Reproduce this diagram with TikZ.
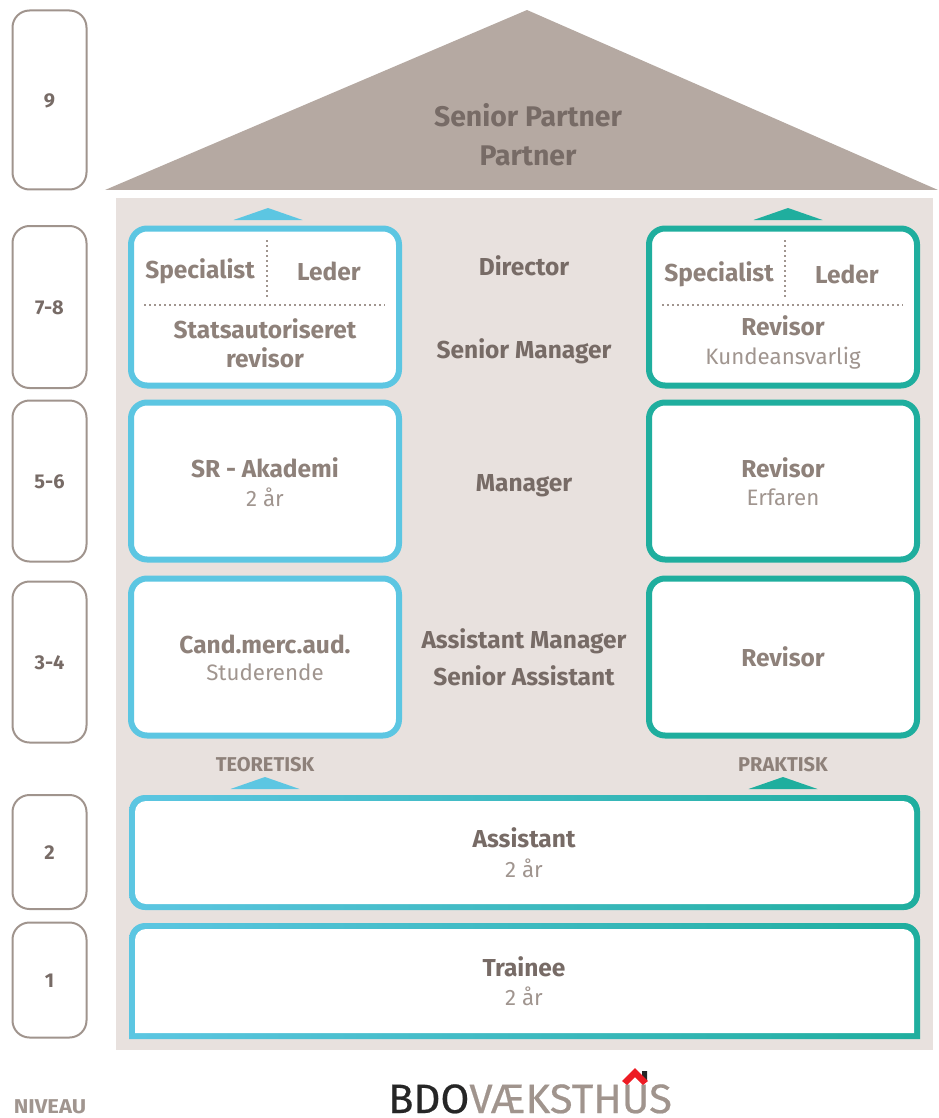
\documentclass[tikz,border=0pt]{standalone}
\usepackage{fontspec}
\setmainfont{Fira Sans}
\newfontfamily\logofont[FakeBold=0.5]{Fira Sans}
\definecolor{roofc}{HTML}{B5A9A2}
\definecolor{wallc}{HTML}{E8E1DE}
\definecolor{bluec}{HTML}{5CC6E2}
\definecolor{tealc}{HTML}{1FAE9E}
\definecolor{levelc}{HTML}{A0948D}
\definecolor{logor}{HTML}{ED1C24}
\definecolor{txtb}{HTML}{8E817A}
\definecolor{txtd}{HTML}{776B66}
\definecolor{txtl}{HTML}{A0958F}
\tikzstyle{level}=[draw=levelc,line width=2pt,rounded corners=17pt,minimum width=74pt,inner sep=0pt,text=txtd,font=\fontsize{20}{20}\selectfont\bfseries]
\tikzstyle{framel}=[draw=bluec,line width=6pt,fill=white,rounded corners=16pt,minimum width=268pt,minimum height=157pt,inner sep=0pt,text=txtb,align=center]
\tikzstyle{framer}=[framel,draw=tealc]
\tikzstyle{wide}=[left color=bluec,right color=tealc,shading angle=90,rounded corners=16pt,minimum width=791pt,inner sep=0pt]
\tikzstyle{title}=[text=txtd,align=center,font=\fontsize{24.5}{37}\selectfont\bfseries]
\tikzstyle{main}=[text=txtb,align=center,font=\fontsize{24.5}{29}\selectfont\bfseries]
\tikzstyle{sub}=[text=txtl,align=center,font=\fontsize{22.3}{28}\selectfont]
\tikzstyle{dots}=[txtl,line width=1.6pt,dash pattern=on 1.6pt off 3.4pt]
\tikzstyle{caps}=[text=txtb,font=\fontsize{20}{20}\selectfont\bfseries]
\begin{document}
\begin{tikzpicture}[x=1pt,y=-1pt]
    \useasboundingbox (0,0) rectangle (938,1118);
    % house
    \fill[wallc] (116,198) rectangle (933,1050);
    \fill[roofc] (527,10) -- (938,190) -- (105,190) -- cycle;
    \node[title,text=txtd,font=\fontsize{28.4}{39}\selectfont\bfseries] (top) at (528,135) {Senior Partner\\Partner};

    % levels on the left
    \foreach \name/\y/\h/\txt in {l9/100/179/9,l78/307/162/7-8,l56/481/161/5-6,l34/662/161/3-4,l2/852/114/2,l1/980/115/1}
    \node[level,minimum height=\h pt] (\name) at (49.5,\y) {\raisebox{-7.5pt}[0pt][0pt]{\txt}};
    \node[text=txtl,font=\fontsize{20}{20}\selectfont\bfseries,xscale=1.1] (niveau) at (50,1107) {NIVEAU};

    % frames
    \foreach \name/\x/\y/\sty in {a1/265/307/framel,a2/265/481/framel,a3/265/657/framel,b1/783/307/framer,b2/783/481/framer,b3/783/657/framer}
    \node[\sty] (\name) at (\x,\y) {};

    % assistant and trainee
    \node[wide,minimum height=115pt] (asso) at (524.5,852.5) {};
    \node[fill=white,rounded corners=11pt,minimum width=779pt,minimum height=103pt,inner sep=0pt] (assi) at (asso) {};
    \shade[left color=bluec,right color=tealc] (129,1039) [rounded corners=16pt] -- (129,923) -- (920,923) [sharp corners] -- (920,1039) -- cycle;
    \fill[white] (135,1033) [rounded corners=11pt] -- (135,929) -- (914,929) [sharp corners] -- (914,1033) -- cycle;

    % arrow heads
    \foreach \x/\y/\col in {268/208/bluec,788/208/tealc,265/777/bluec,783/777/tealc}
    \fill[\col] (\x,\y) -- ++(34.5,12) -- ++(-69,0) -- cycle;

    % dotted dividers
    \foreach \x in {267,785}{
    \draw[dots] (\x,240) -- (\x,298);
    \draw[dots] (\x-123,305) -- (\x+118,305);
    }

    % texts in the frames
    \foreach \name/\x/\y/\txt in {sa/200/271/Specialist,la/329/271/Leder,sb/719/274/Specialist,lb/847/274/Leder}
    \node[main] (\name) at (\x,\y) {\txt};
    \node[main] (stat) at (265,343) {Statsautoriseret\\revisor};
    \node[main] (rev1) at (783,326) {Revisor};
    \node[sub] (kund) at (783,358) {Kundeansvarlig};
    \node[main] (sr) at (265,468) {SR - Akademi};
    \node[sub] (sr2) at (265,497) {2 år};
    \node[main] (rev2) at (783,468) {Revisor};
    \node[sub] (erf) at (783,497) {Erfaren};
    \node[main] (cand) at (265,644) {Cand.merc.aud.};
    \node[sub] (stud) at (265,672) {Studerende};
    \node[main] (rev3) at (783,657) {Revisor};
    \node[caps] (teo) at (265,765) {TEORETISK};
    \node[caps] (pra) at (783,765) {PRAKTISK};

    % titles in the middle
    \node[title] (dir) at (524,266) {Director};
    \node[title] (sm) at (524,351) {Senior Manager};
    \node[title] (man) at (524,486) {Manager};
    \node[title] (am) at (524,657) {Assistant Manager\\Senior Assistant};
    \node[title] (asst) at (524,838) {Assistant};
    \node[sub] (asst2) at (524,868) {2 år};
    \node[title] (tr) at (524,967) {Trainee};
    \node[sub] (tr2) at (524,996) {2 år};

    % logo
    \node[inner sep=0pt,anchor=base,xscale=1.02] (logo) at (530,1113) {\fontsize{41}{41}\logofont\textcolor{black!85}{BDO}\textcolor{levelc}{VÆKSTHUS}};
    \fill[black!85] (642,1071) -- (647,1071) -- (647,1081) -- (642,1077) -- cycle;
    \fill[logor] (635,1068) -- (648,1081) -- (643,1085) -- (635,1077) -- (627,1085) -- (622,1081) -- cycle;
\end{tikzpicture}
\end{document}
